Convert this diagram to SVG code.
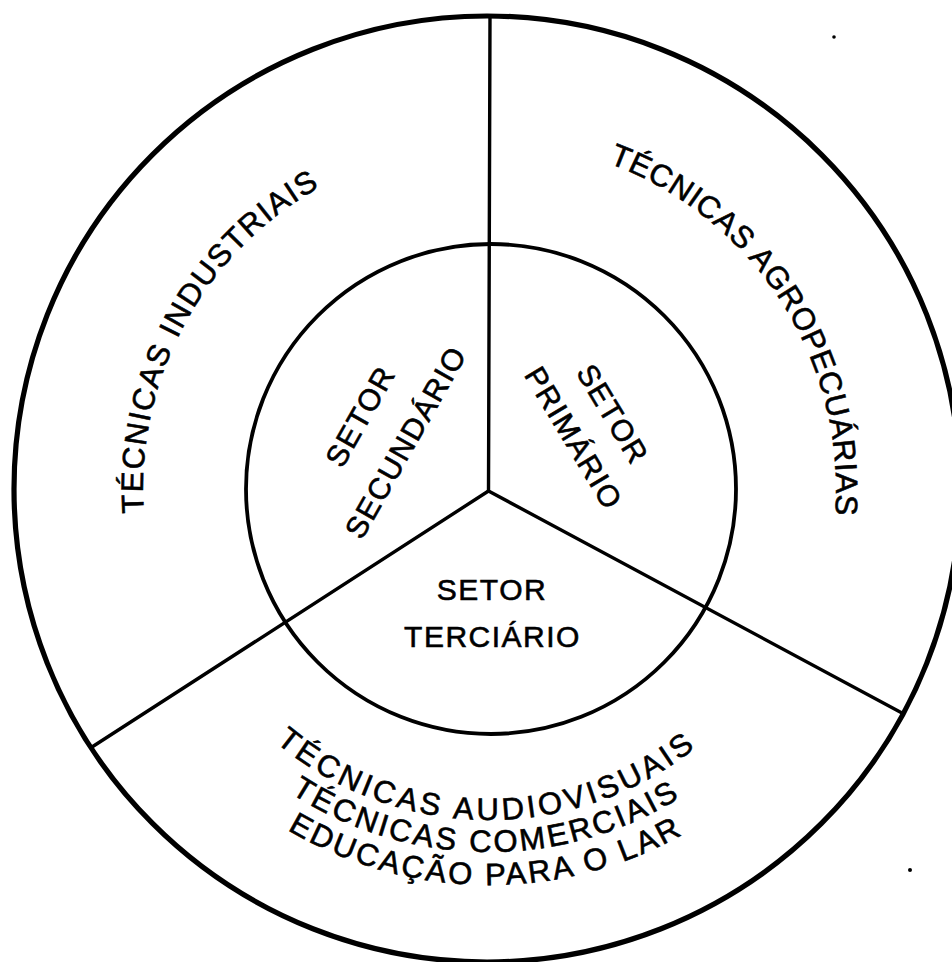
<svg xmlns="http://www.w3.org/2000/svg" width="952" height="962" viewBox="0 0 952 962">
  <style>
    .ring { fill: none; stroke: #000; }
    .spoke { fill: none; stroke: #000; stroke-width: 3.4; stroke-linecap: round; }
    .lbl { font-family: "Liberation Sans", Arial, Helvetica, sans-serif; fill: #000; stroke: #000; stroke-width: 0.6px; }
    .arc { font-size: 31px; }
    .core { font-size: 30px; letter-spacing: 1.5px; }
  </style>
  <defs>
    <!-- baseline arcs for the curved labels, all centred on the hub -->
    <path id="arcIndustriais" d="M194.0,669.8 A346,346 0 0 1 479.9,143.1"/>
    <path id="arcAgro" d="M472.4,142.4 A347,347 0 0 1 797.5,647.9"/>
    <path id="arcBottom1" d="M200.9,652.0 A331,331 0 0 0 774.2,657.0"/>
    <path id="arcBottom2" d="M173.0,667.7 A363,363 0 0 0 801.8,673.2"/>
    <path id="arcBottom3" d="M144.3,684.0 A396,396 0 0 0 830.2,690.0"/>
  </defs>

  <rect x="0" y="0" width="952" height="962" fill="#fff"/>

  <!-- outer ring -->
  <g id="outer-ring">
    <circle class="ring" cx="487" cy="489" r="473" stroke-width="5.2"/>
  </g>

  <!-- inner circle of the three sectors -->
  <g id="inner-circle">
    <circle class="ring" cx="491" cy="489" r="245" stroke-width="3.8"/>
  </g>

  <!-- dividing spokes -->
  <g id="connectors">
    <line class="spoke" x1="488.5" y1="491" x2="490" y2="16"/>
    <line class="spoke" x1="488.5" y1="491" x2="902" y2="713"/>
    <line class="spoke" x1="488.5" y1="491" x2="92" y2="747"/>
  </g>

  <!-- secondary sector -->
  <g id="setor-secundario" class="lbl core">
    <text transform="translate(360,416) rotate(-60.5)" y="10.7" text-anchor="middle">SETOR</text>
    <text transform="translate(405.5,442) rotate(-60.5)" y="10.7" text-anchor="middle">SECUNDÁRIO</text>
  </g>

  <!-- primary sector -->
  <g id="setor-primario" class="lbl core">
    <text transform="translate(613,414) rotate(59)" y="10.7" text-anchor="middle">SETOR</text>
    <text transform="translate(574,438) rotate(59)" y="10.7" text-anchor="middle">PRIMÁRIO</text>
  </g>

  <!-- tertiary sector -->
  <g id="setor-terciario" class="lbl core">
    <text x="492" y="600" text-anchor="middle">SETOR</text>
    <text x="492.5" y="647" text-anchor="middle">TERCIÁRIO</text>
  </g>

  <!-- outer ring labels -->
  <g id="tecnicas-industriais" class="lbl arc">
    <text letter-spacing="1.5"><textPath href="#arcIndustriais" startOffset="50%" text-anchor="middle">TÉCNICAS INDUSTRIAIS</textPath></text>
  </g>

  <g id="tecnicas-agropecuarias" class="lbl arc">
    <text letter-spacing="0.7"><textPath href="#arcAgro" startOffset="50%" text-anchor="middle">TÉCNICAS AGROPECUÁRIAS</textPath></text>
  </g>

  <g id="tecnicas-terciario" class="lbl arc">
    <text letter-spacing="3.5"><textPath href="#arcBottom1" startOffset="50%" text-anchor="middle">TÉCNICAS AUDIOVISUAIS</textPath></text>
    <text letter-spacing="2.7"><textPath href="#arcBottom2" startOffset="50%" text-anchor="middle">TÉCNICAS COMERCIAIS</textPath></text>
    <text letter-spacing="2.6"><textPath href="#arcBottom3" startOffset="50%" text-anchor="middle">EDUCAÇÃO PARA O LAR</textPath></text>
  </g>

  <!-- specks -->
  <g id="specks" fill="#000">
    <circle cx="834" cy="37" r="1.8"/>
    <circle cx="910" cy="870" r="2"/>
  </g>
</svg>
